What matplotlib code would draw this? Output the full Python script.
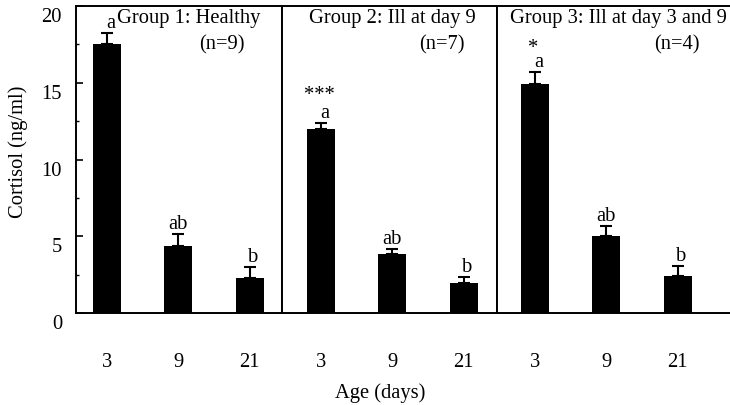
import matplotlib.pyplot as plt
import matplotlib.transforms as mtransforms
from matplotlib.ticker import MultipleLocator

plt.rcParams['font.family'] = ['Liberation Serif', 'DejaVu Serif']

ages = ['3', '9', '21']
groups = ['Group 1: Healthy', 'Group 2: Ill at day 9', 'Group 3: Ill at day 3 and 9']
n_labels = ['(n=9)', '(n=7)', '(n=4)']

g1_mean = [17.55, 4.39, 2.28]
g1_sem = [0.71, 0.75, 0.72]
g2_mean = [12.0, 3.85, 1.96]
g2_sem = [0.4, 0.35, 0.41]
g3_mean = [14.9, 5.0, 2.4]
g3_sem = [0.8, 0.7, 0.67]

g1_letters = ['a', 'ab', 'b']
g2_letters = ['a', 'ab', 'b']
g3_letters = ['a', 'ab', 'b']
stars = ['', '***', '*']

means = [g1_mean, g2_mean, g3_mean]
sems = [g1_sem, g2_sem, g3_sem]
letters = [g1_letters, g2_letters, g3_letters]

W, H = 730, 405
fig = plt.figure(figsize=(W / 100, H / 100), dpi=100)

# panel layout in pixels (left, right) and x limits
panels = [(76, 282), (282, 497), (497, 730)]
first_bar = [31, 39, 38]
step = 71.3
top_px, bot_px = 6, 313
title_x = [0.545, 0.514, 0.52]
n_pos = [0.709, 0.745, 0.773]
star_off = [0, 1.8, 1.55]
fs = 14.8

for i in range(3):
    l, r = panels[i]
    ax = fig.add_axes([l / W, 1 - bot_px / H, (r - l) / W, (bot_px - top_px) / H])
    x = list(range(len(ages)))
    ax.bar(x, means[i], width=0.39, color='black')
    ax.errorbar(x, means[i], yerr=[[0] * 3, sems[i]], fmt='none', ecolor='black',
                elinewidth=1.5, capsize=4, capthick=1.5)
    ax.set_xlim(-first_bar[i] / step, (r - l - first_bar[i]) / step)
    ax.set_ylim(0, 20)
    ax.set_xticks(x)
    ax.set_xticklabels(ages, fontsize=fs)
    ax.tick_params(axis='x', length=0, pad=29)
    for s in ax.spines.values():
        s.set_linewidth(1.4)
    if i == 2:
        ax.spines['right'].set_visible(False)
    if i == 0:
        ax.yaxis.set_major_locator(MultipleLocator(5))
        ax.yaxis.set_minor_locator(MultipleLocator(2.5))
        ax.tick_params(axis='y', which='major', direction='in', length=5, width=1.2,
                       labelsize=fs, pad=10)
        ax.tick_params(axis='y', which='minor', direction='in', length=2, width=1.0)
        off = mtransforms.ScaledTranslation(0, -9 / 100, fig.dpi_scale_trans)
        for lab in ax.get_yticklabels():
            lab.set_transform(lab.get_transform() + off)
    else:
        ax.set_yticks([])

    for j in range(3):
        top = means[i][j] + sems[i][j]
        dx = 0.05 if letters[i][j] != 'ab' else 0.0
        ax.text(j + dx, top + 0.3, letters[i][j], ha='center', va='baseline', fontsize=fs)
    if stars[i]:
        ax.text(-0.02, means[i][0] + sems[i][0] + star_off[i], stars[i], ha='center',
                va='center', fontsize=fs)

    ax.text(title_x[i], 0.958, groups[i], transform=ax.transAxes,
            ha='center', va='center', fontsize=fs)
    ax.text(n_pos[i], 0.872, n_labels[i], transform=ax.transAxes,
            ha='center', va='center', fontsize=fs)

fig.text(380 / W, 1 - 393 / H, 'Age (days)', ha='center', va='center', fontsize=fs)
fig.text(18 / W, 1 - 152 / H, 'Cortisol (ng/ml)', ha='center', va='center',
         rotation=90, fontsize=fs)

fig.savefig('out.png', dpi=100)
